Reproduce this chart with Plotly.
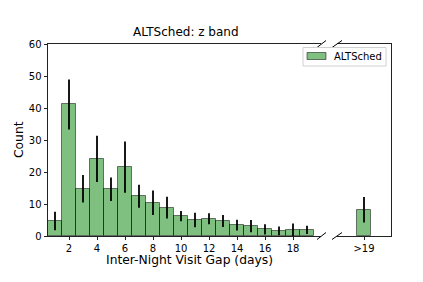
import plotly.graph_objects as go

# ---- data ----
gap_days = list(range(1, 20))
counts = [4.7, 41.1, 14.8, 24.1, 14.6, 21.5, 12.4, 10.4, 8.9, 6.2,
          5.0, 5.4, 4.7, 3.4, 3.1, 2.1, 1.6, 1.9, 1.9]
errors = [2.9, 7.8, 4.3, 7.2, 3.7, 8.0, 3.6, 3.8, 3.4, 1.6,
          2.3, 1.7, 1.9, 1.7, 1.9, 1.6, 1.4, 2.0, 1.3]
over_label = [">19"]
over_count = [8.2]
over_error = [4.0]
x_ticks = [2, 4, 6, 8, 10, 12, 14, 16, 18]
y_ticks = [0, 10, 20, 30, 40, 50, 60]
series_name = "ALTSched"

W, H = 423, 282
L, R, T, B = 48, 32, 44, 46
pw, ph = W - L - R, H - T - B

def px(x):
    return (x - L) / pw

def py(y):
    return (H - B - y) / ph

fill = "rgba(0,128,0,0.5)"
edge = "rgba(0,0,0,0.5)"
font = "DejaVu Sans, Liberation Sans, sans-serif"

fig = go.Figure()
fig.add_trace(go.Bar(
    x=gap_days, y=counts, width=1, name=series_name,
    marker=dict(color=fill, line=dict(color=edge, width=1)),
    error_y=dict(type="data", array=errors, color="black", thickness=1.8, width=0),
    xaxis="x", yaxis="y", showlegend=False,
))
fig.add_trace(go.Bar(
    x=[0], y=over_count, width=1, name=series_name,
    marker=dict(color=fill, line=dict(color=edge, width=1)),
    error_y=dict(type="data", array=over_error, color="black", thickness=1.8, width=0),
    xaxis="x2", yaxis="y2", showlegend=False,
))

spine = "#222"
d1 = px(321)
d2 = px(337)
tick_font = dict(size=10)
fig.update_layout(
    width=W, height=H,
    margin=dict(l=L, r=R, t=T, b=B),
    paper_bgcolor="white", plot_bgcolor="white",
    bargap=0,
    font=dict(family=font, size=10, color="black"),
    xaxis=dict(domain=[0, d1], range=[0.5, 20.0], tickvals=x_ticks,
               ticks="outside", ticklen=3.5, tickwidth=0.8, tickcolor=spine,
               showline=True, linecolor=spine, linewidth=0.9, mirror=True,
               showgrid=False, zeroline=False, tickfont=tick_font),
    yaxis=dict(domain=[0, 1], range=[0, 60], tickvals=y_ticks,
               ticks="outside", ticklen=3.5, tickwidth=0.8, tickcolor=spine,
               showline=True, linecolor=spine, linewidth=0.9,
               showgrid=False, zeroline=False, tickfont=tick_font),
    xaxis2=dict(domain=[d2, 1], range=[-1.93, 1.93], tickvals=[0], ticktext=over_label,
                ticks="outside", ticklen=3.5, tickwidth=0.8, tickcolor=spine,
                showline=True, linecolor=spine, linewidth=0.9, mirror=True,
                showgrid=False, zeroline=False, anchor="y2", tickfont=tick_font),
    yaxis2=dict(domain=[0, 1], range=[0, 60], anchor="x2", side="right",
                showline=True, linecolor=spine, linewidth=0.9,
                showticklabels=False, ticks="", showgrid=False, zeroline=False),
)

# break marks
for (x0, x1) in [(317, 326), (332, 342)]:
    for yc in [T, H - B]:
        fig.add_shape(type="line", xref="paper", yref="paper",
                      x0=px(x0), x1=px(x1), y0=py(yc + 3.5), y1=py(yc - 3.5),
                      line=dict(color="black", width=1))

# manual legend (box, patch, label)
fig.add_shape(type="rect", xref="paper", yref="paper",
              x0=px(303), x1=px(386), y0=py(66), y1=py(47.5),
              line=dict(color="#d0d0d0", width=1), fillcolor="rgba(255,255,255,0.8)")
fig.add_shape(type="rect", xref="paper", yref="paper",
              x0=px(307), x1=px(326), y0=py(59.5), y1=py(52.5),
              line=dict(color=edge, width=1), fillcolor=fill)
fig.add_annotation(text=series_name, xref="paper", yref="paper",
                   x=px(332), y=py(56.5), xanchor="left", yanchor="middle",
                   showarrow=False, font=dict(size=10))

fig.add_annotation(text="ALTSched: z band", xref="paper", yref="paper",
                   x=px(185.5), y=py(32), xanchor="center", yanchor="middle",
                   showarrow=False, font=dict(size=12))
fig.add_annotation(text="Inter-Night Visit Gap (days)", xref="paper", yref="paper",
                   x=px(189), y=py(260), xanchor="center", yanchor="middle",
                   showarrow=False, font=dict(size=12.3))
fig.add_annotation(text="Count", xref="paper", yref="paper",
                   x=px(19), y=py(140), xanchor="center", yanchor="middle",
                   textangle=-90, showarrow=False, font=dict(size=12.3))

fig.write_html("out.html", config={"displayModeBar": False},
               post_script="document.body.style.margin='0';document.body.style.padding='0';")
